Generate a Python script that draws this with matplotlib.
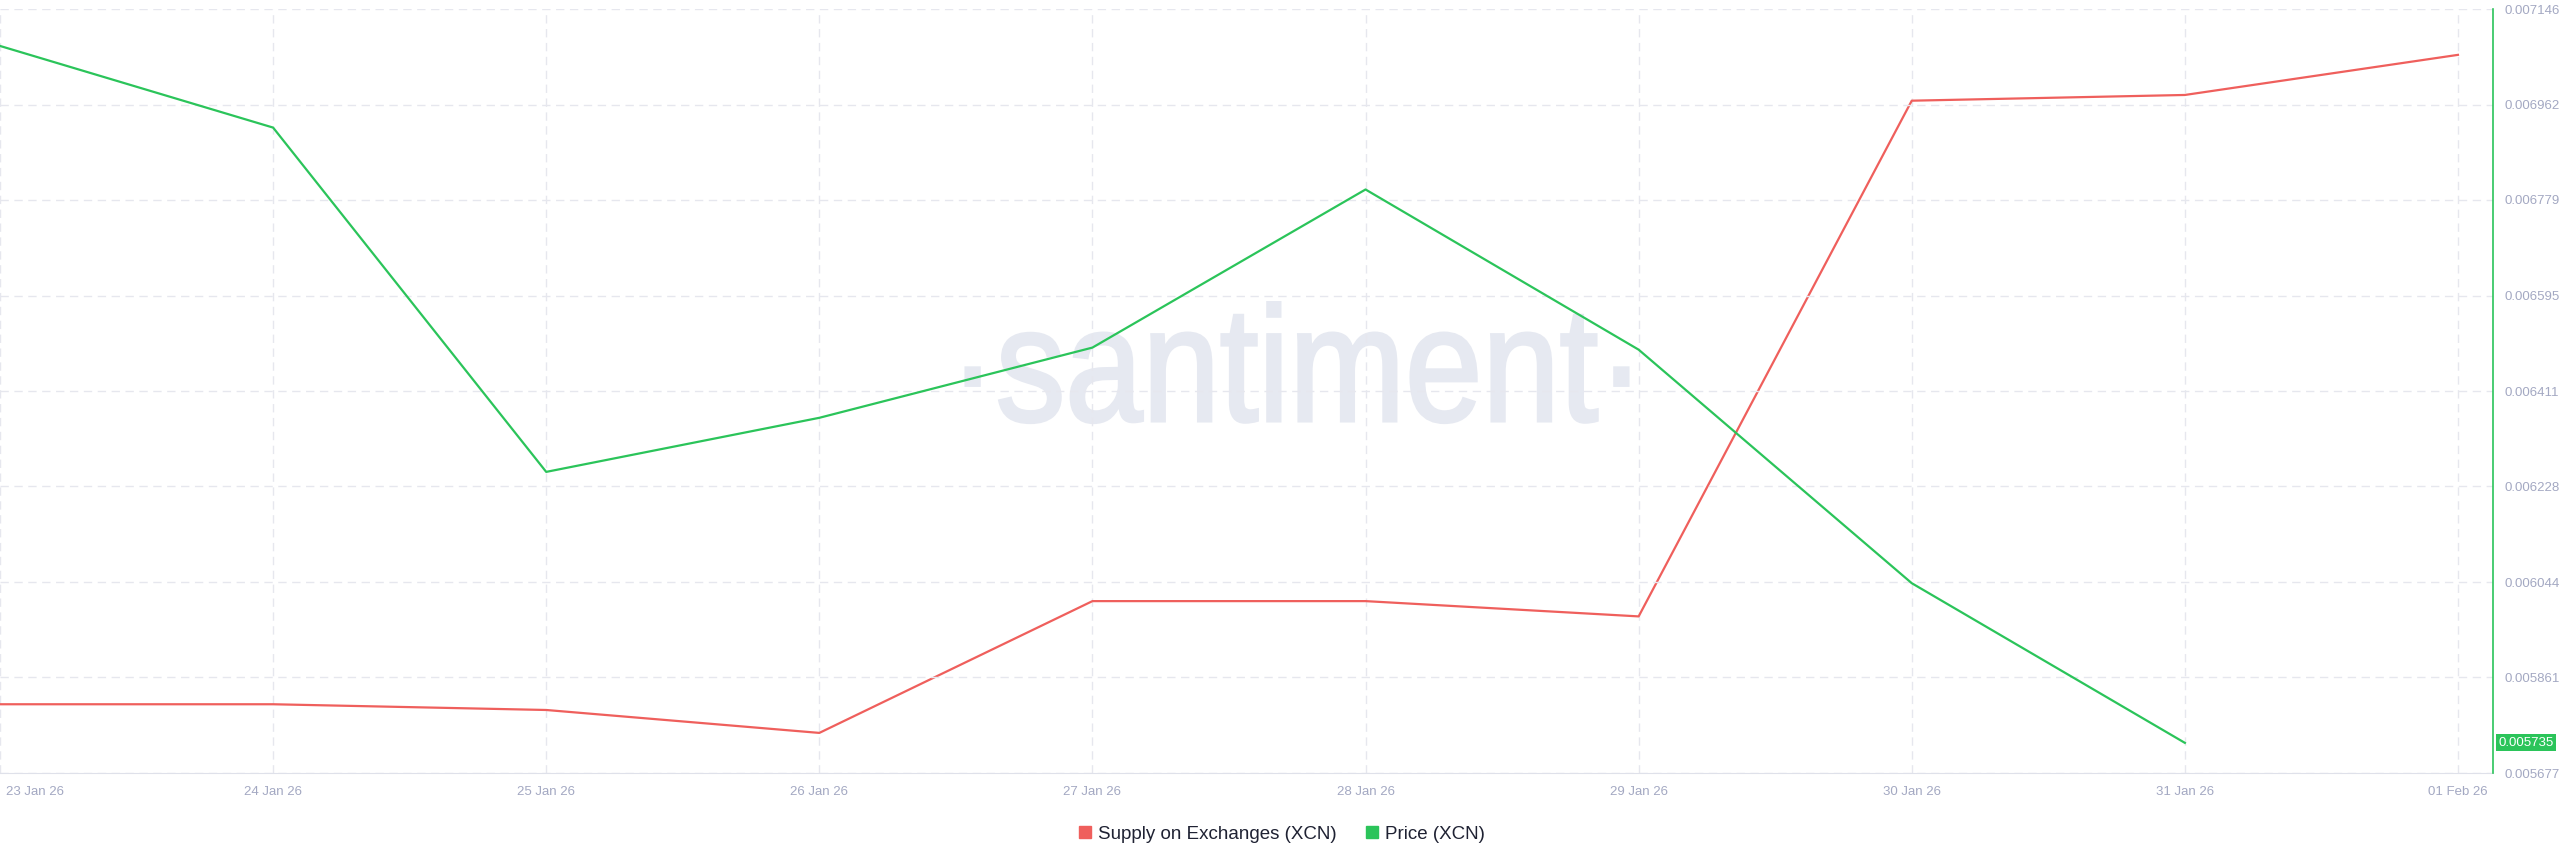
import pandas as pd
import matplotlib
matplotlib.use("Agg")
import matplotlib.pyplot as plt
import matplotlib.dates as mdates
from matplotlib.lines import Line2D
from matplotlib.patches import PathPatch
from matplotlib.textpath import TextPath
from matplotlib.font_manager import FontProperties
from matplotlib.transforms import (blended_transform_factory, Affine2D,
                                   IdentityTransform, ScaledTranslation)

# data
dates = ["2026-01-23", "2026-01-24", "2026-01-25", "2026-01-26", "2026-01-27",
         "2026-01-28", "2026-01-29", "2026-01-30", "2026-01-31", "2026-02-01"]
# supply on exchanges (billions XCN, axis hidden in the original)
supply = [10.236, 10.236, 10.233, 10.221, 10.290, 10.290, 10.282, 10.552, 10.555, 10.576]
# price (USD), no value for 01 Feb
price_dates = dates[:9]
price = [0.007075, 0.006918, 0.006256, 0.006360, 0.006495, 0.006799, 0.006491, 0.006042, 0.005735]
price_ticks = [0.005677, 0.005861, 0.006044, 0.006228, 0.006411, 0.006595, 0.006779, 0.006962, 0.007146]
last_price = "0.005735"

red = "#ef5f5c"
green = "#2bc45a"
tick_col = "#a3a8c2"
grid_col = "#e6e7ee"
wm_col = "#e6e9f1"

d = pd.to_datetime(dates)
pd_ = pd.to_datetime(price_dates)

fig = plt.figure(figsize=(25.6, 8.67), dpi=100)
ax = fig.add_axes([0.0, 0.1084, 0.9738, 0.8812])
ax2 = ax.twinx()

ax.plot(d, supply, color=red, lw=1.6, zorder=3)
ax2.plot(pd_, price, color=green, lw=1.6, zorder=3)

x0 = d[0]
ax.set_xlim(x0, x0 + pd.Timedelta(days=9.128))
ax.set_ylim(10.20, 10.60)
ax2.set_ylim(price_ticks[0], price_ticks[-1])

# x axis
ax.set_xticks(d)
ax.xaxis.set_major_formatter(mdates.DateFormatter("%d %b %y"))
ax.tick_params(axis="x", length=0, pad=9, labelsize=9.5, labelcolor=tick_col)
for lab in ax.get_xticklabels():
    lab.set_fontfamily("Liberation Sans")
first = ax.get_xticklabels()[0]
first.set_ha("left")
first.set_transform(first.get_transform() + ScaledTranslation(0.06, 0, fig.dpi_scale_trans))
ax.set_yticks([])
ax.grid(axis="x", color=grid_col, ls=(0, (6, 4)), lw=1)

# right price axis
ax2.set_yticks(price_ticks)
ax2.set_yticklabels([f"{v:.6f}" for v in price_ticks], fontfamily="Liberation Sans")
ax2.tick_params(axis="y", length=0, pad=8, labelsize=9.5, labelcolor=tick_col)
ax2.grid(axis="y", color=grid_col, ls=(0, (6, 4)), lw=1)
ax.set_axisbelow(True)
ax2.set_axisbelow(True)

for a in (ax, ax2):
    for s in ("top", "left", "right", "bottom"):
        a.spines[s].set_visible(False)
ax2.spines["right"].set_visible(True)
ax2.spines["right"].set_color(green)
ax2.spines["right"].set_linewidth(1.2)
ax.spines["bottom"].set_visible(True)
ax.spines["bottom"].set_color("#dfe1ea")

# current price badge
tr = blended_transform_factory(ax2.transAxes, ax2.transData)
ax2.text(1.0022, price[-1], last_price, transform=tr, ha="left", va="center",
         fontsize=9.5, color="white", fontfamily="Liberation Sans",
         bbox=dict(boxstyle="square,pad=0.18", fc=green, ec="none"), zorder=5)

# watermark: narrow lettering, squeeze a text path sideways
tp = TextPath((0, 0), "·santiment·", size=100, prop=FontProperties(family="Liberation Sans"))
bb = tp.get_extents()
sx = 662 / bb.width
sy = 85 / 52.0
wm_tr = Affine2D().scale(sx, sy).translate(966 - bb.x0 * sx, 446)
wm = PathPatch(wm_tr.transform_path(tp), fc=wm_col, ec=wm_col, lw=2.2,
               transform=IdentityTransform(), zorder=0.5)
ax.add_artist(wm)

# legend
handles = [Line2D([], [], marker="s", ls="", color=red, markersize=9),
           Line2D([], [], marker="s", ls="", color=green, markersize=9)]
fig.legend(handles, ["Supply on Exchanges (XCN)", "Price (XCN)"], loc="center",
           bbox_to_anchor=(0.5, 1 - 834 / 867), ncol=2, frameon=False,
           handletextpad=0.2, columnspacing=1.4, handlelength=1.0,
           prop={"family": "Liberation Sans", "size": 13.5}, labelcolor="#1f2233")

fig.savefig("out.png", dpi=100)
